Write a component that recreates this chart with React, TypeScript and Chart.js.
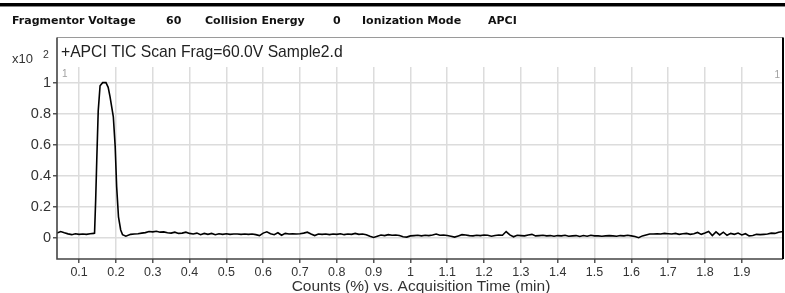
import React, { useEffect, useRef } from "react";
import { Chart, registerables } from "chart.js";

Chart.register(...registerables);

const times: number[] = [
  0.04, 0.05, 0.06, 0.07, 0.08, 0.09, 0.10, 0.11, 0.12, 0.13, 0.14,
  0.142, 0.145, 0.148, 0.152, 0.157, 0.164, 0.173, 0.179, 0.184, 0.193, 0.198, 0.202, 0.207, 0.213, 0.218, 0.227,
  0.24, 0.25, 0.26, 0.27, 0.28, 0.29, 0.30, 0.31, 0.32, 0.33, 0.34, 0.35, 0.36, 0.37, 0.38, 0.39,
  0.40, 0.41, 0.42, 0.43, 0.44, 0.45, 0.46, 0.47, 0.48, 0.49,
  0.50, 0.51, 0.52, 0.53, 0.54, 0.55, 0.56, 0.57, 0.58, 0.59,
  0.60, 0.61, 0.62, 0.63, 0.64, 0.65, 0.66, 0.67, 0.68, 0.69,
  0.70, 0.71, 0.72, 0.73, 0.74, 0.75, 0.76, 0.77, 0.78, 0.79,
  0.80, 0.81, 0.82, 0.83, 0.84, 0.85, 0.86, 0.87, 0.88, 0.89,
  0.90, 0.91, 0.92, 0.93, 0.94, 0.95, 0.96, 0.97, 0.98, 0.99,
  1.00, 1.01, 1.02, 1.03, 1.04, 1.05, 1.06, 1.07, 1.08, 1.09,
  1.10, 1.11, 1.12, 1.13, 1.14, 1.15, 1.16, 1.17, 1.18, 1.19,
  1.20, 1.21, 1.22, 1.23, 1.24, 1.25, 1.26, 1.27, 1.28, 1.29,
  1.30, 1.31, 1.32, 1.33, 1.34, 1.35, 1.36, 1.37, 1.38, 1.39,
  1.40, 1.41, 1.42, 1.43, 1.44, 1.45, 1.46, 1.47, 1.48, 1.49,
  1.50, 1.51, 1.52, 1.53, 1.54, 1.55, 1.56, 1.57, 1.58, 1.59,
  1.60, 1.61, 1.62, 1.63, 1.64, 1.65, 1.66, 1.67, 1.68, 1.69,
  1.70, 1.71, 1.72, 1.73, 1.74, 1.75, 1.76, 1.77, 1.78, 1.79,
  1.80, 1.81, 1.82, 1.83, 1.84, 1.85, 1.86, 1.87, 1.88, 1.89,
  1.90, 1.91, 1.92, 1.93, 1.94, 1.95, 1.96, 1.97, 1.98, 1.99,
  2.00, 2.012,
];

const counts: number[] = [
  0.030, 0.040, 0.032, 0.025, 0.020, 0.026, 0.022, 0.024, 0.022, 0.026, 0.028,
  0.030, 0.24, 0.50, 0.82, 0.98, 1.00, 1.00, 0.97, 0.91, 0.78, 0.59, 0.33, 0.135, 0.05, 0.02, 0.010,
  0.022, 0.024, 0.026, 0.030, 0.033, 0.040, 0.038, 0.042, 0.036, 0.038, 0.032, 0.030, 0.036, 0.028, 0.030, 0.036,
  0.028, 0.024, 0.030, 0.020, 0.028, 0.022, 0.028, 0.020, 0.026, 0.022,
  0.026, 0.022, 0.024, 0.024, 0.022, 0.024, 0.022, 0.024, 0.020, 0.014,
  0.030, 0.038, 0.026, 0.020, 0.032, 0.016, 0.028, 0.024, 0.026, 0.024,
  0.026, 0.030, 0.036, 0.024, 0.014, 0.024, 0.022, 0.024, 0.020, 0.024,
  0.022, 0.026, 0.020, 0.024, 0.022, 0.028, 0.022, 0.024, 0.020, 0.010,
  0.002, 0.010, 0.018, 0.014, 0.020, 0.016, 0.018, 0.014, 0.006, 0.004,
  0.012, 0.014, 0.016, 0.012, 0.016, 0.014, 0.018, 0.024, 0.016, 0.018,
  0.014, 0.010, 0.004, 0.012, 0.020, 0.018, 0.014, 0.012, 0.016, 0.014,
  0.018, 0.016, 0.010, 0.014, 0.018, 0.016, 0.040, 0.018, 0.006, 0.016,
  0.014, 0.012, 0.018, 0.022, 0.012, 0.014, 0.016, 0.012, 0.014, 0.010,
  0.014, 0.012, 0.016, 0.010, 0.012, 0.014, 0.008, 0.014, 0.010, 0.016,
  0.012, 0.012, 0.010, 0.012, 0.014, 0.012, 0.010, 0.014, 0.012, 0.016,
  0.012, 0.008, 0.000, 0.012, 0.018, 0.024, 0.024, 0.026, 0.024, 0.028,
  0.026, 0.024, 0.028, 0.022, 0.026, 0.028, 0.022, 0.026, 0.034, 0.022,
  0.030, 0.040, 0.014, 0.038, 0.018, 0.036, 0.016, 0.028, 0.022, 0.030,
  0.018, 0.026, 0.012, 0.014, 0.022, 0.020, 0.022, 0.024, 0.030, 0.028,
  0.036, 0.040,
];

const xTickValues: number[] = [0.1, 0.2, 0.3, 0.4, 0.5, 0.6, 0.7, 0.8, 0.9, 1.0, 1.1, 1.2, 1.3, 1.4, 1.5, 1.6, 1.7, 1.8, 1.9];
const xTickLabels: string[] = ["0.1", "0.2", "0.3", "0.4", "0.5", "0.6", "0.7", "0.8", "0.9", "1", "1.1", "1.2", "1.3", "1.4", "1.5", "1.6", "1.7", "1.8", "1.9"];
const yTickValues: number[] = [0, 0.2, 0.4, 0.6, 0.8, 1.0];
const yTickLabels: string[] = ["0", "0.2", "0.4", "0.6", "0.8", "1"];

const headerItems: { text: string; x: number }[] = [
  { text: "Fragmentor Voltage", x: 12 },
  { text: "60", x: 166 },
  { text: "Collision Energy", x: 205 },
  { text: "0", x: 333 },
  { text: "Ionization Mode", x: 362 },
  { text: "APCI", x: 488 },
];
const plotTitle = "+APCI TIC Scan Frag=60.0V Sample2.d";
const xAxisTitle = "Counts (%) vs. Acquisition Time (min)";

const FONT = "'Liberation Sans', Arial, sans-serif";

const framePlugin = {
  id: "frame",
  afterDraw(chart: any) {
    const ctx = chart.ctx as CanvasRenderingContext2D;
    const area = chart.chartArea;
    const boxTop = 37.5;
    ctx.save();
    // top rule
    ctx.fillStyle = "#000";
    ctx.fillRect(0, 3, 785, 3);
    ctx.fillStyle = "#888";
    ctx.fillRect(0, 6, 785, 1);
    // header
    ctx.fillStyle = "#111";
    ctx.font = "bold 11px 'DejaVu Sans', Verdana, sans-serif";
    ctx.textBaseline = "middle";
    ctx.textAlign = "left";
    for (const h of headerItems) ctx.fillText(h.text, h.x, 21);
    // plot box
    ctx.strokeStyle = "#9a9a9a";
    ctx.lineWidth = 1;
    ctx.beginPath();
    ctx.moveTo(area.left, boxTop);
    ctx.lineTo(area.right, boxTop);
    ctx.stroke();
    ctx.strokeStyle = "#444";
    ctx.lineWidth = 1.6;
    ctx.beginPath();
    ctx.moveTo(area.left, boxTop);
    ctx.lineTo(area.left, area.bottom);
    ctx.lineTo(area.right, area.bottom);
    ctx.stroke();
    ctx.strokeStyle = "#000";
    ctx.lineWidth = 2;
    ctx.beginPath();
    ctx.moveTo(area.right, boxTop);
    ctx.lineTo(area.right, area.bottom);
    ctx.stroke();
    // title inside box
    ctx.fillStyle = "#222";
    ctx.font = "15.7px " + FONT;
    ctx.fillText(plotTitle, 61, 53);
    // multiplier
    ctx.font = "13px " + FONT;
    ctx.fillStyle = "#333";
    ctx.fillText("x10", 12, 59);
    ctx.font = "10.5px " + FONT;
    ctx.fillText("2", 43, 55);
    // small gray markers
    ctx.fillStyle = "#a0a0a0";
    ctx.font = "10px " + FONT;
    ctx.fillText("1", 62, 74);
    ctx.textAlign = "right";
    ctx.fillText("1", 780, 75);
    // x axis title
    ctx.fillStyle = "#333";
    ctx.textAlign = "center";
    ctx.font = "15.5px " + FONT;
    ctx.fillText(xAxisTitle, 421, 286.5);
    ctx.restore();
  },
};

export default function App() {
  const ref = useRef<HTMLCanvasElement | null>(null);
  useEffect(() => {
    if (!ref.current) return;
    const data = times.map((t, i) => ({ x: t, y: counts[i] }));
    const chart = new Chart(ref.current, {
      type: "line",
      data: {
        datasets: [
          {
            data,
            borderColor: "#000",
            borderWidth: 1.6,
            pointRadius: 0,
            tension: 0,
            fill: false,
          },
        ],
      },
      options: {
        animation: false,
        responsive: false,
        devicePixelRatio: 1,
        layout: { padding: { top: 67, right: 2, left: 0, bottom: 0 } },
        plugins: { legend: { display: false }, tooltip: { enabled: false }, title: { display: false } },
        scales: {
          x: {
            type: "linear",
            min: 0.04,
            max: 2.012,
            afterBuildTicks: (s: any) => {
              s.ticks = xTickValues.map((v) => ({ value: v }));
            },
            afterFit: (s: any) => {
              s.height = 34;
            },
            ticks: {
              autoSkip: false,
              maxRotation: 0,
              padding: 2,
              color: "#333",
              font: { family: FONT, size: 12.5 },
              callback: (_v: any, i: number) => xTickLabels[i],
            },
            grid: { color: "#dcdcdc", lineWidth: 1.5, tickColor: "#555", tickLength: 4, drawTicks: true },
            border: { display: false },
          },
          y: {
            type: "linear",
            min: -0.137,
            max: 1.101,
            afterBuildTicks: (s: any) => {
              s.ticks = yTickValues.map((v) => ({ value: v }));
            },
            afterFit: (s: any) => {
              s.width = 57;
            },
            ticks: {
              padding: 2,
              color: "#333",
              font: { family: FONT, size: 14.5 },
              callback: (_v: any, i: number) => yTickLabels[i],
            },
            grid: { color: "#dcdcdc", lineWidth: 1.5, tickColor: "#555", tickLength: 4, drawTicks: true },
            border: { display: false },
          },
        },
      },
      plugins: [framePlugin],
    });
    return () => chart.destroy();
  }, []);
  return (
    <div style={{ position: "absolute", left: 0, top: 0, width: 785, height: 293, background: "#fff" }}>
      <canvas ref={ref} width={785} height={293} />
    </div>
  );
}
